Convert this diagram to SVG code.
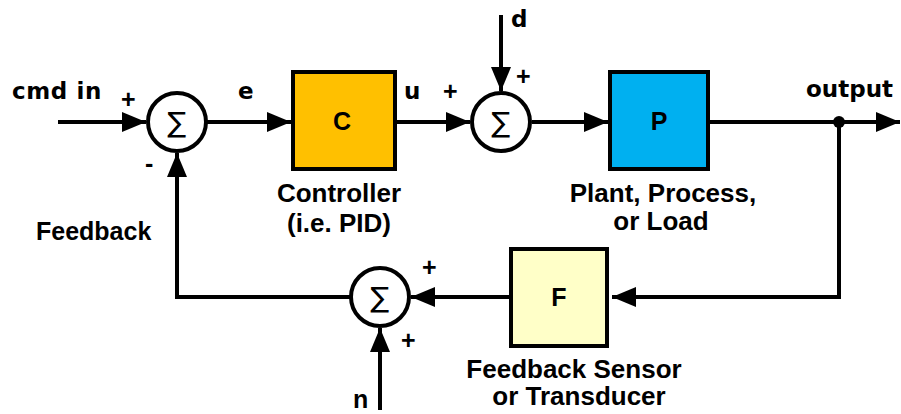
<svg xmlns="http://www.w3.org/2000/svg" width="901" height="414" viewBox="0 0 901 414">
<style>
.ln{fill:none;stroke:#000;stroke-width:4}
.box{stroke:#000;stroke-width:4}
.sum{fill:#fff;stroke:#000;stroke-width:4}
.t{font-family:"Liberation Sans",Arial,sans-serif;font-weight:bold;font-size:25px;fill:#000}
.l{font-size:26px}
.d{font-family:"DejaVu Sans","Open Sans",sans-serif;font-weight:bold;font-size:23px;fill:#000}
.m{text-anchor:middle}
.s{font-family:"DejaVu Sans",sans-serif;font-size:28px;text-anchor:middle;fill:#000}
</style>
<defs>
<marker id="ah" markerWidth="24" markerHeight="20" viewBox="0 0 24 20" refX="24" refY="10" orient="auto" markerUnits="userSpaceOnUse">
<path d="M0,0 L24,10 L0,20 Z" fill="#000"/>
</marker>
</defs>
<rect width="901" height="414" fill="#fff"/>
<g id="connectors">
<line class="ln" x1="58" y1="122" x2="146" y2="122" marker-end="url(#ah)"/>
<line class="ln" x1="207" y1="122" x2="291" y2="122" marker-end="url(#ah)"/>
<line class="ln" x1="397" y1="122" x2="470" y2="122" marker-end="url(#ah)"/>
<line class="ln" x1="501" y1="15" x2="501" y2="91" marker-end="url(#ah)"/>
<line class="ln" x1="532" y1="122" x2="608" y2="122" marker-end="url(#ah)"/>
<line class="ln" x1="710" y1="122" x2="900" y2="122" marker-end="url(#ah)"/>
<polyline class="ln" points="839,122 839,297 612,297" marker-end="url(#ah)"/>
<line class="ln" x1="509" y1="297" x2="411" y2="297" marker-end="url(#ah)"/>
<polyline class="ln" points="350,297 177,297 177,153" marker-end="url(#ah)"/>
<line class="ln" x1="380" y1="410" x2="380" y2="328" marker-end="url(#ah)"/>
<circle cx="839" cy="122" r="6" fill="#000"/>
</g>
<g id="sum1">
<circle class="sum" cx="177" cy="122" r="29"/>
<text class="s" x="177" y="132">∑</text>
</g>
<g id="sum2">
<circle class="sum" cx="501" cy="122" r="29"/>
<text class="s" x="501" y="132">∑</text>
</g>
<g id="sum3">
<circle class="sum" cx="380" cy="297" r="29"/>
<text class="s" x="380" y="307">∑</text>
</g>
<g id="C">
<rect class="box" x="293" y="72" width="102" height="97" fill="#FFC000"/>
<text class="t m" x="342" y="130">C</text>
</g>
<g id="P">
<rect class="box" x="610" y="72" width="98" height="97" fill="#00B0F0"/>
<text class="t m" x="659" y="130">P</text>
</g>
<g id="F">
<rect class="box" x="511" y="249" width="96" height="97" fill="#FFFFC8"/>
<text class="t m" x="559" y="306">F</text>
</g>
<g id="labels">
<text class="d" x="12" y="99" letter-spacing="0.6">cmd in</text>
<text class="t" x="121" y="108">+</text>
<text class="t" x="145" y="172">-</text>
<text class="d" x="238" y="99">e</text>
<text class="d" x="404" y="99">u</text>
<text class="t" x="443" y="100">+</text>
<text class="t" x="516" y="85">+</text>
<text class="d" x="511" y="27">d</text>
<text class="d" x="806" y="97">output</text>
<text class="t l m" x="339" y="202">Controller</text>
<text class="t l m" x="339" y="232">(i.e. PID)</text>
<text class="t l m" x="663" y="202">Plant, Process,</text>
<text class="t l m" x="661" y="230">or Load</text>
<text class="t" x="36" y="240">Feedback</text>
<text class="t" x="422" y="276">+</text>
<text class="t" x="401" y="349">+</text>
<text class="t" x="353" y="408">n</text>
<text class="t l m" x="574" y="378">Feedback Sensor</text>
<text class="t l m" x="579" y="405">or Transducer</text>
</g>
</svg>
